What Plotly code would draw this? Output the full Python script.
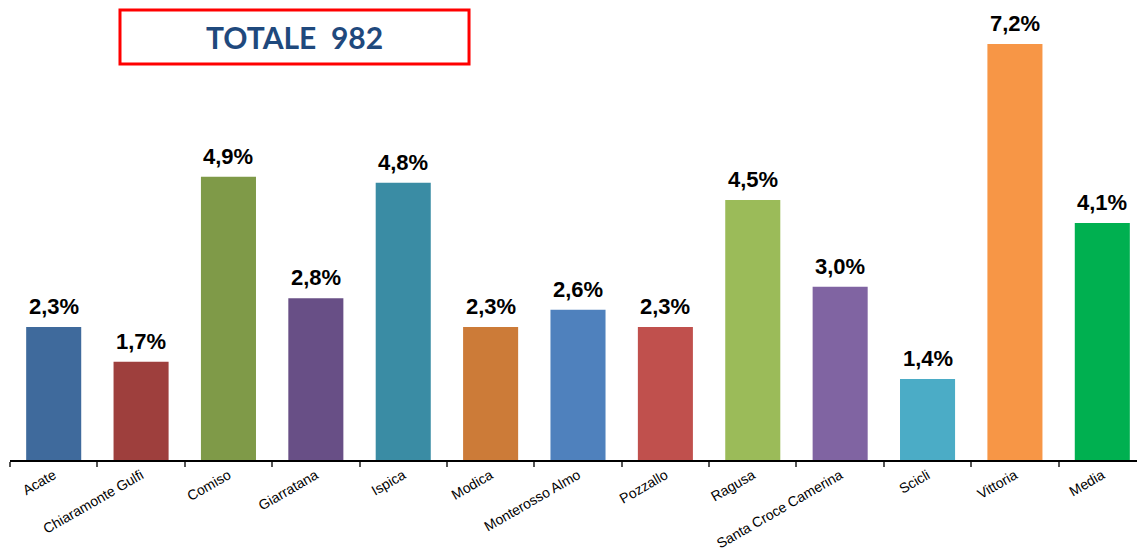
import plotly.graph_objects as go

comuni = ["Acate", "Chiaramonte Gulfi", "Comiso", "Giarratana", "Ispica", "Modica",
          "Monterosso Almo", "Pozzallo", "Ragusa", "Santa Croce Camerina", "Scicli",
          "Vittoria", "Media"]
percentuali = [2.3, 1.7, 4.9, 2.8, 4.8, 2.3, 2.6, 2.3, 4.5, 3.0, 1.4, 7.2, 4.1]
colori = ["#3F6A9C", "#9E3F3D", "#7F9A48", "#684F86", "#3A8CA4", "#CC7B38",
          "#4F81BD", "#C0504D", "#9BBB59", "#8064A2", "#4BACC6", "#F79646", "#00B050"]
totale = 982

etichette = [f"{v:.1f}%".replace(".", ",") for v in percentuali]

fig = go.Figure(go.Bar(
    x=comuni,
    y=percentuali,
    marker=dict(color=colori, line=dict(width=0)),
    width=0.63,
    cliponaxis=False,
    hoverinfo="skip",
))

# value labels above each bar
value_labels = [dict(
    x=c, y=v, xref="x", yref="y",
    text=f"<b>{t}</b>",
    showarrow=False, xanchor="center", yanchor="bottom", yshift=6,
    font=dict(family="Arial, Liberation Sans, sans-serif", size=22, color="#000000"),
) for c, v, t in zip(comuni, percentuali, etichette)]

fig.update_layout(
    width=1137, height=552,
    margin=dict(l=10, r=0, t=0, b=92, autoexpand=False),
    paper_bgcolor="white", plot_bgcolor="white",
    showlegend=False,
    font=dict(family="Arial, Liberation Sans, sans-serif", color="#000000"),
    xaxis=dict(
        type="category",
        range=[-0.5, 12.397],
        automargin=False,
        showline=True, linecolor="#000000", linewidth=1.5,
        ticks="outside", tickson="boundaries", ticklen=5, tickcolor="#555555", tickwidth=1.5,
        tickangle=-30,
        tickfont=dict(size=14, color="#000000"),
        showgrid=False, zeroline=False,
    ),
    yaxis=dict(
        range=[0, 7.961],
        visible=False,
        automargin=False,
        showgrid=False, zeroline=False,
    ),
    shapes=[dict(
        type="rect", xref="paper", yref="paper",
        x0=0.0976, x1=0.4073, y0=0.861, y1=0.978,
        line=dict(color="#FF0000", width=3),
        fillcolor="white",
    )],
    annotations=value_labels + [dict(
        text=f"<b>TOTALE&nbsp;&nbsp;{totale}</b>",
        xref="paper", yref="paper", x=0.2524, y=0.9196,
        xanchor="center", yanchor="middle", showarrow=False,
        font=dict(family="Lato, Open Sans, sans-serif", size=30, color="#1F497D"),
    )],
)

fig.write_html("out.html")
